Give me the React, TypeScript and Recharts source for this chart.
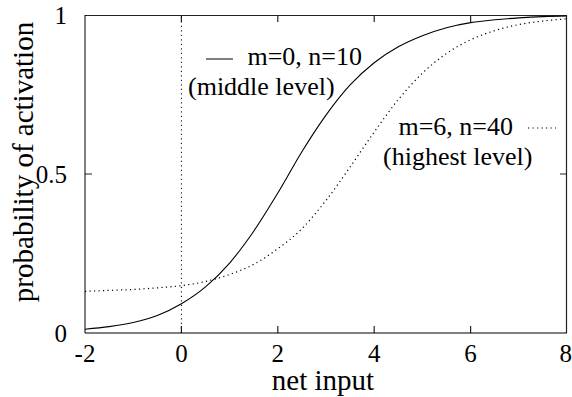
import React from 'react';
import { LineChart, Line, XAxis, YAxis, ReferenceLine, Customized } from 'recharts';

const X_VALUES = [-2, -1.5, -1, -0.5, 0, 0.5, 1, 1.5, 2, 2.5, 3, 3.5, 4, 4.5, 5, 5.5, 6, 6.5, 7, 7.5, 8];
const MIDDLE_LEVEL = [0.012, 0.02, 0.033, 0.055, 0.092, 0.145, 0.22, 0.32, 0.44, 0.57, 0.685, 0.78, 0.85, 0.9, 0.935, 0.96, 0.976, 0.985, 0.991, 0.995, 0.997];
const HIGHEST_LEVEL = [0.131, 0.134, 0.137, 0.142, 0.149, 0.162, 0.184, 0.216, 0.265, 0.328, 0.417, 0.522, 0.632, 0.734, 0.817, 0.879, 0.922, 0.951, 0.97, 0.981, 0.988];
const X_TICKS = [-2, 0, 2, 4, 6, 8];
const Y_TICKS = [0, 0.5, 1];
const LEGEND_1 = ['m=0, n=10', '(middle level)'];
const LEGEND_2 = ['m=6, n=40', '(highest level)'];
const X_LABEL = 'net input';
const Y_LABEL = 'probability of activation';

const data = X_VALUES.map((x, i) => ({ x, middle: MIDDLE_LEVEL[i], highest: HIGHEST_LEVEL[i] }));

const FONT = "'Liberation Serif', 'Times New Roman', Times, serif";
const W = 572;
const H = 397;
const TICK = 7;
const BOX_L = 85;
const BOX_T = 15;
const BOX_R = 567;
const BOX_B = 333;
const XMIN = -2;
const XMAX = 8;

const Overlay = () => {
  const inner = X_TICKS.filter((t) => t > XMIN && t < XMAX).map((t) => BOX_L + ((t - XMIN) / (XMAX - XMIN)) * (BOX_R - BOX_L));
  const ymid = (BOX_T + BOX_B) / 2;
  let d = `M${BOX_L},${BOX_T + 0.5}H${BOX_R - 0.5}V${BOX_B}`;
  inner.forEach((x) => {
    d += `M${x},${BOX_B}V${BOX_B - TICK}M${x},${BOX_T}V${BOX_T + TICK}`;
  });
  d += `M${BOX_L},${ymid}H${BOX_L + TICK}M${BOX_R},${ymid}H${BOX_R - TICK}`;
  return (
    <g fontFamily={FONT} fontSize={26} fill="#000">
      <path d={d} stroke="#222" strokeWidth={1.2} fill="none" />
      <line x1={206} x2={233} y1={59} y2={59} stroke="#000" strokeWidth={1} />
      <text x={362} y={65} textAnchor="end">{LEGEND_1[0]}</text>
      <text x={188} y={95}>{LEGEND_1[1]}</text>
      <text x={513} y={135} textAnchor="end">{LEGEND_2[0]}</text>
      <line x1={528} x2={556} y1={128} y2={128} stroke="#000" strokeWidth={1.2} strokeDasharray="1.2 3.3" />
      <text x={383} y={165}>{LEGEND_2[1]}</text>
      <text x={323} y={390} fontSize={29} textAnchor="middle">{X_LABEL}</text>
      <text x={33} y={162} fontSize={29} textAnchor="middle" transform="rotate(-90, 33, 162)">{Y_LABEL}</text>
    </g>
  );
};

export default function App() {
  const tickStyle = { fontFamily: FONT, fontSize: 25, fill: '#000' };
  return (
    <div style={{ position: 'fixed', left: 0, top: 0, width: W, height: H, background: '#fff', fontFamily: FONT }}>
      <LineChart width={W} height={H} data={data} margin={{ top: 15, right: 5, bottom: 0, left: 0 }}>
        <XAxis dataKey="x" type="number" domain={[XMIN, XMAX]} ticks={X_TICKS} height={64} tickLine={false} tickMargin={5} tick={tickStyle} axisLine={{ stroke: '#000' }} />
        <YAxis type="number" domain={[0, 1]} ticks={Y_TICKS} width={85} tickLine={false} tickMargin={12} tick={tickStyle} tickFormatter={(v: number) => String(v)} axisLine={{ stroke: '#000' }} />
        <ReferenceLine x={0} stroke="#000" strokeWidth={1} strokeDasharray="1.2 3.3" />
        <Line type="monotone" dataKey="middle" stroke="#000" strokeWidth={1.1} dot={false} isAnimationActive={false} />
        <Line type="monotone" dataKey="highest" stroke="#000" strokeWidth={1.2} strokeDasharray="1.2 3.3" dot={false} isAnimationActive={false} />
        <Customized component={Overlay} />
      </LineChart>
    </div>
  );
}
